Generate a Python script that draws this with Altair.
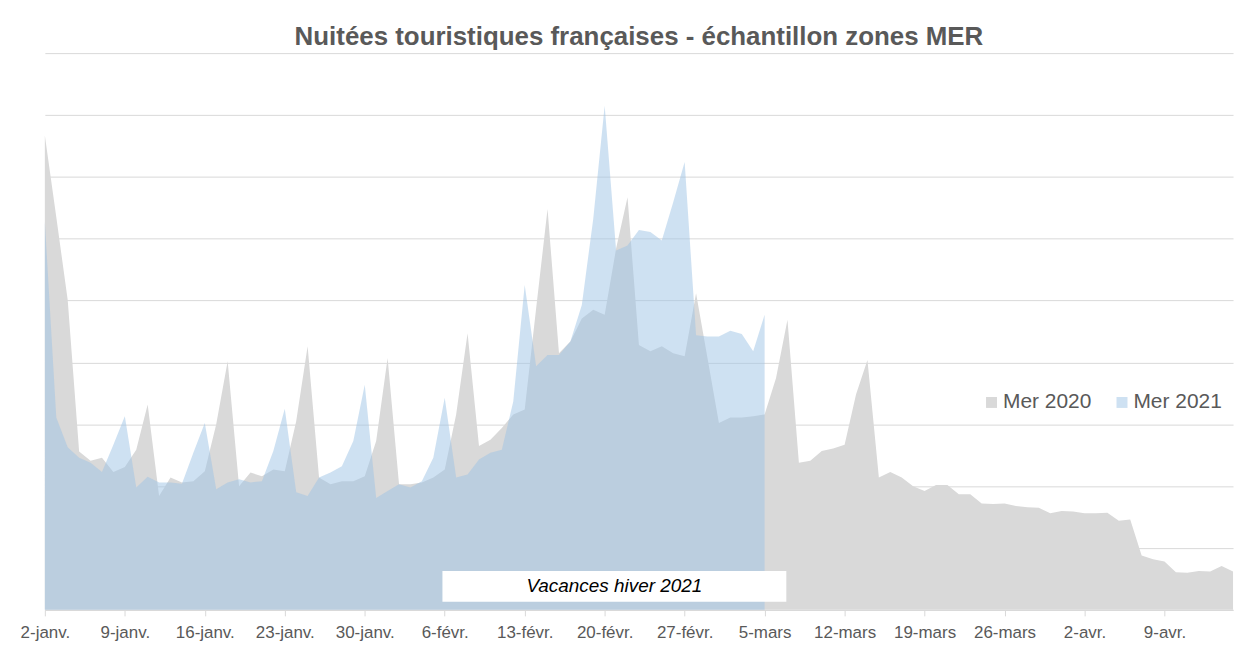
import json
import altair as alt
import pandas as pd

series_names = ["Mer 2020", "Mer 2021"]

mer_2020 = [7.67, 6.35, 5.01, 2.56, 2.41, 2.46, 2.23, 2.31, 2.59, 3.32,
            1.84, 2.14, 2.06, 2.08, 2.24, 3.00, 4.02, 2.00, 2.22, 2.16,
            2.27, 2.24, 3.05, 4.26, 2.14, 2.03, 2.08, 2.08, 2.16, 2.73,
            4.07, 2.03, 2.03, 2.06, 2.14, 2.27, 3.16, 4.47, 2.65, 2.75,
            2.94, 3.16, 3.24, 4.87, 6.48, 4.15, 4.34, 4.71, 4.85, 4.77,
            5.84, 6.67, 4.28, 4.18, 4.26, 4.15, 4.10, 5.12, 4.07, 3.02,
            3.11, 3.11, 3.13, 3.16, 3.75, 4.69, 2.38, 2.41, 2.57, 2.61,
            2.67, 3.48, 4.04, 2.14, 2.23, 2.14, 2.00, 1.92, 2.02, 2.02,
            1.87, 1.87, 1.72, 1.71, 1.72, 1.68, 1.66, 1.65, 1.56, 1.60,
            1.59, 1.56, 1.56, 1.57, 1.44, 1.46, 0.88, 0.82, 0.78, 0.61,
            0.60, 0.63, 0.62, 0.71, 0.62]

mer_2021 = [6.27, 3.11, 2.63, 2.46, 2.38, 2.23, 2.67, 3.13, 1.98, 2.15,
            2.06, 2.06, 2.04, 2.54, 3.02, 1.95, 2.06, 2.11, 2.06, 2.08,
            2.57, 3.25, 1.90, 1.84, 2.14, 2.22, 2.32, 2.73, 3.64, 1.81,
            1.92, 2.03, 1.98, 2.08, 2.46, 3.43, 2.14, 2.19, 2.43, 2.54,
            2.59, 3.37, 5.25, 3.94, 4.12, 4.12, 4.34, 4.93, 6.32, 8.15,
            5.81, 5.89, 6.14, 6.11, 5.97, 6.59, 7.24, 4.44, 4.42, 4.42,
            4.51, 4.46, 4.18, 4.77]

tick_days = [0, 7, 14, 21, 28, 35, 42, 49, 56, 63, 70, 77, 84, 91, 98]
tick_labels = ["2-janv.", "9-janv.", "16-janv.", "23-janv.", "30-janv.",
               "6-févr.", "13-févr.", "20-févr.", "27-févr.", "5-mars",
               "12-mars", "19-mars", "26-mars", "2-avr.", "9-avr."]

grid_values = [0, 1, 2, 3, 4, 5, 6, 7, 8, 9]

annotation_text = ["Vacances hiver 2021"]
annotation_x = [34.8, 64.9]
annotation_y = [0.13, 0.63]

title_text = "Nuitées touristiques françaises - échantillon zones MER"

FONT = "Liberation Sans"
GREY_TXT = "#595959"

df2020 = pd.DataFrame({"jour": list(range(len(mer_2020))), "valeur": mer_2020,
                       "serie": series_names[0]})
df2021 = pd.DataFrame({"jour": list(range(len(mer_2021))), "valeur": mer_2021,
                       "serie": series_names[1]})

label_expr = json.dumps(tick_labels) + "[round(datum.value / 7)]"

x_enc = alt.X("jour:Q",
              scale=alt.Scale(domain=[0, 104], nice=False, zero=False),
              axis=alt.Axis(values=tick_days, labelExpr=label_expr, title=None,
                            grid=False, domainColor="#d9d9d9", tickColor="#d9d9d9",
                            tickSize=6, labelFont=FONT, labelFontSize=17,
                            labelColor=GREY_TXT, labelPadding=9, labelFlush=False,
                            labelOverlap=False))
y_enc = alt.Y("valeur:Q",
              scale=alt.Scale(domain=[0, 9], nice=False),
              axis=alt.Axis(values=grid_values, labels=False, ticks=False,
                            domain=False, title=None, grid=True,
                            gridColor="#d9d9d9", gridWidth=1))

color_scale = alt.Scale(domain=series_names, range=["#d9d9d9", "#9dc3e6"])
opacity_scale = alt.Scale(domain=series_names, range=[1.0, 0.5])

legend = alt.Legend(orient="none", legendX=940, legendY=340, direction="horizontal",
                    title=None, symbolType="square", symbolSize=121,
                    symbolStrokeWidth=0, labelFont=FONT, labelFontSize=21,
                    labelColor=GREY_TXT, labelOffset=1, columnPadding=20, padding=0)

def area_layer(df):
    return alt.Chart(df).mark_area(interpolate="linear").encode(
        x=x_enc, y=y_enc,
        color=alt.Color("serie:N", scale=color_scale, legend=legend),
        opacity=alt.Opacity("serie:N", scale=opacity_scale, legend=legend),
    )

a2020 = area_layer(df2020)
a2021 = area_layer(df2021)

ann_df = pd.DataFrame({"jour": [annotation_x[0]], "jour_fin": [annotation_x[1]],
                       "valeur": [annotation_y[0]], "valeur_fin": [annotation_y[1]],
                       "texte": annotation_text,
                       "jour_mid": [(annotation_x[0] + annotation_x[1]) / 2],
                       "valeur_mid": [(annotation_y[0] + annotation_y[1]) / 2]})

box = alt.Chart(ann_df).mark_rect(color="white", opacity=1).encode(
    x=alt.X("jour:Q"), x2="jour_fin:Q", y=alt.Y("valeur:Q"), y2="valeur_fin:Q")
box_text = alt.Chart(ann_df).mark_text(font=FONT, fontStyle="italic", fontSize=19,
                                       color="#000000", baseline="middle",
                                       align="center").encode(
    x=alt.X("jour_mid:Q"), y=alt.Y("valeur_mid:Q"), text="texte:N")

chart = alt.layer(a2020, a2021, box, box_text).properties(
    width=1193, height=559,
    background="white",
    title=alt.Title(title_text, font=FONT, fontSize=26, fontWeight="bold",
                    color=GREY_TXT, anchor="middle", offset=7, dy=25,
                    baseline="alphabetic"),
    autosize=alt.AutoSizeParams(type="none"),
    padding={"left": 37, "top": 44, "right": 10, "bottom": 40},
).configure_view(stroke=None)

chart.save("out.html", embed_options={"renderer": "svg", "actions": False})
